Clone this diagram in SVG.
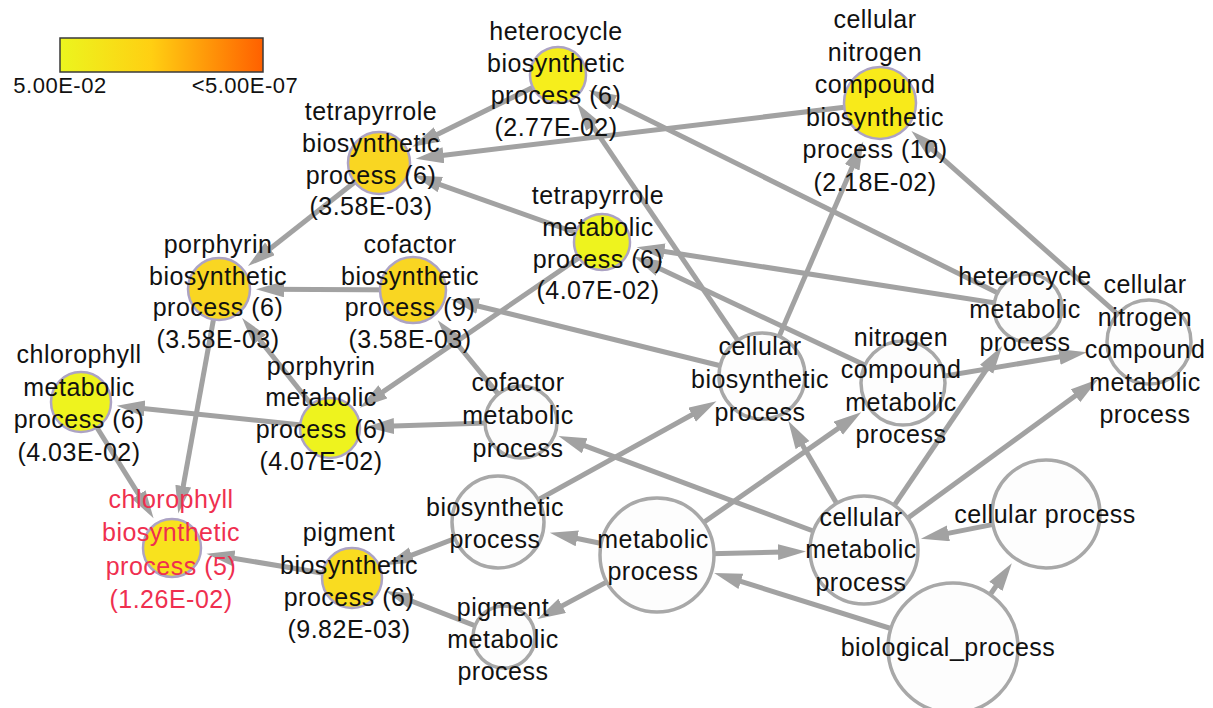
<svg xmlns="http://www.w3.org/2000/svg" width="1213" height="708" viewBox="0 0 1213 708">
  <defs>
    <linearGradient id="scale" x1="0" y1="0" x2="1" y2="0">
      <stop offset="0" stop-color="#ecf51e"/>
      <stop offset="0.45" stop-color="#ffcf12"/>
      <stop offset="1" stop-color="#ff6000"/>
    </linearGradient>
    <marker id="arrow" markerUnits="userSpaceOnUse" markerWidth="30" markerHeight="18" refX="16" refY="8" orient="auto">
      <path d="M0,0 L28,8 L0,16 z" fill="#a2a2a2"/>
    </marker>
    <style>
      .edge { stroke: #a2a2a2; stroke-width: 5; fill: none; marker-end: url(#arrow); }
      .term { fill: #fdfdfd; stroke: #a8a8a8; stroke-width: 3.5; }
      .hit { stroke: #aca3c4; stroke-width: 2.5; }
      .lbl { font-family: "Liberation Sans", Arial, sans-serif; font-size: 25px; letter-spacing: 0.5px; fill: #111111; text-anchor: middle; }
      .red { fill: #ef2f4f; }
      .leg { font-family: "Liberation Sans", Arial, sans-serif; font-size: 22px; letter-spacing: 0.5px; fill: #111111; text-anchor: middle; }
    </style>
  </defs>
  <rect width="1213" height="708" fill="#ffffff"/>

  <!-- colour scale -->
  <g id="legend">
    <rect x="60" y="38" width="203" height="34" fill="url(#scale)" stroke="#3a3a3a" stroke-width="1.5"/>
    <text class="leg" x="60" y="93">5.00E-02</text>
    <text class="leg" x="245" y="93">&lt;5.00E-07</text>
  </g>

  <!-- is-a edges, parent to child -->
  <g id="edges">
    <line class="edge" x1="558" y1="75" x2="423.0" y2="141.4"/>
    <line class="edge" x1="880" y1="103" x2="427.6" y2="157.2"/>
    <line class="edge" x1="602" y1="242" x2="425.2" y2="179.3"/>
    <line class="edge" x1="1028" y1="308" x2="599.3" y2="95.4"/>
    <line class="edge" x1="762" y1="376" x2="583.8" y2="113.1"/>
    <line class="edge" x1="762" y1="376" x2="858.5" y2="152.6"/>
    <line class="edge" x1="1149" y1="342" x2="920.4" y2="138.9"/>
    <line class="edge" x1="1028" y1="308" x2="648.5" y2="249.0"/>
    <line class="edge" x1="903" y1="383" x2="644.7" y2="261.6"/>
    <line class="edge" x1="379" y1="163" x2="257.4" y2="258.7"/>
    <line class="edge" x1="413" y1="290" x2="268" y2="289.2"/>
    <line class="edge" x1="330" y1="428" x2="249.6" y2="327.3"/>
    <line class="edge" x1="762" y1="376" x2="462.6" y2="302.2"/>
    <line class="edge" x1="521" y1="422" x2="445.3" y2="329.5"/>
    <line class="edge" x1="602" y1="242" x2="369.7" y2="400.9"/>
    <line class="edge" x1="521" y1="422" x2="378" y2="426.5"/>
    <line class="edge" x1="330" y1="428" x2="128.7" y2="406.9"/>
    <line class="edge" x1="219" y1="289" x2="180.4" y2="501.8"/>
    <line class="edge" x1="81" y1="402" x2="147.2" y2="508.1"/>
    <line class="edge" x1="352" y1="578" x2="218.3" y2="555.7"/>
    <line class="edge" x1="498" y1="522" x2="396.8" y2="560.8"/>
    <line class="edge" x1="504" y1="637" x2="396.8" y2="595.3"/>
    <line class="edge" x1="657" y1="555" x2="561.6" y2="535.2"/>
    <line class="edge" x1="657" y1="555" x2="548.1" y2="613.4"/>
    <line class="edge" x1="657" y1="555" x2="794" y2="551.7"/>
    <line class="edge" x1="953" y1="648" x2="725.6" y2="576.6"/>
    <line class="edge" x1="953" y1="648" x2="1005" y2="573.2"/>
    <line class="edge" x1="1046" y1="514" x2="932.7" y2="536.4"/>
    <line class="edge" x1="498" y1="522" x2="706" y2="407"/>
    <line class="edge" x1="657" y1="555" x2="851.4" y2="419.1"/>
    <line class="edge" x1="864" y1="550" x2="794.4" y2="431.3"/>
    <line class="edge" x1="864" y1="550" x2="995.5" y2="356.0"/>
    <line class="edge" x1="864" y1="550" x2="1088.4" y2="386.3"/>
    <line class="edge" x1="903" y1="383" x2="1075.1" y2="354.3"/>
    <line class="edge" x1="864" y1="550" x2="569.7" y2="440.2"/>
  </g>

  <!-- terms: circles -->
  <g id="n-heterocycle-biosynthetic"><circle class="hit" cx="558" cy="75" r="28" fill="#f6ee1c"/></g>
  <g id="n-cellular-nitrogen-compound-biosynthetic"><circle class="hit" cx="880" cy="103" r="36" fill="#f8ea1a"/></g>
  <g id="n-tetrapyrrole-biosynthetic"><circle class="hit" cx="379" cy="163" r="31" fill="#f9d622"/></g>
  <g id="n-tetrapyrrole-metabolic"><circle class="hit" cx="602" cy="242" r="28" fill="#eef31e"/></g>
  <g id="n-porphyrin-biosynthetic"><circle class="hit" cx="219" cy="289" r="31" fill="#f9d622"/></g>
  <g id="n-cofactor-biosynthetic"><circle class="hit" cx="413" cy="290" r="33" fill="#f9d622"/></g>
  <g id="n-chlorophyll-metabolic"><circle class="hit" cx="81" cy="402" r="30" fill="#eef31e"/></g>
  <g id="n-chlorophyll-biosynthetic"><circle class="hit" cx="172" cy="548" r="29" fill="#f8e21e"/></g>
  <g id="n-porphyrin-metabolic"><circle class="hit" cx="330" cy="428" r="30" fill="#eef31e"/></g>
  <g id="n-pigment-biosynthetic"><circle class="hit" cx="352" cy="578" r="30" fill="#f9dc20"/></g>
  <g id="n-cofactor-metabolic"><circle class="term" cx="521" cy="422" r="36"/></g>
  <g id="n-cellular-biosynthetic"><circle class="term" cx="762" cy="376" r="43"/></g>
  <g id="n-nitrogen-compound-metabolic"><circle class="term" cx="903" cy="383" r="42"/></g>
  <g id="n-heterocycle-metabolic"><circle class="term" cx="1028" cy="308" r="34"/></g>
  <g id="n-cellular-nitrogen-compound-metabolic"><circle class="term" cx="1149" cy="342" r="42"/></g>
  <g id="n-biosynthetic"><circle class="term" cx="498" cy="522" r="46"/></g>
  <g id="n-metabolic"><circle class="term" cx="657" cy="555" r="57"/></g>
  <g id="n-pigment-metabolic"><circle class="term" cx="504" cy="637" r="31"/></g>
  <g id="n-cellular-metabolic"><circle class="term" cx="864" cy="550" r="54"/></g>
  <g id="n-cellular"><circle class="term" cx="1046" cy="514" r="54"/></g>
  <g id="n-biological"><circle class="term" cx="953" cy="648" r="65"/></g>

  <!-- term labels -->
  <g id="labels">
    <text class="lbl" x="556" y="40">heterocycle</text>
    <text class="lbl" x="556" y="72">biosynthetic</text>
    <text class="lbl" x="556" y="104">process (6)</text>
    <text class="lbl" x="556" y="136">(2.77E-02)</text>

    <text class="lbl" x="875" y="28">cellular</text>
    <text class="lbl" x="875" y="60.5">nitrogen</text>
    <text class="lbl" x="875" y="93">compound</text>
    <text class="lbl" x="875" y="125.5">biosynthetic</text>
    <text class="lbl" x="875" y="158">process (10)</text>
    <text class="lbl" x="875" y="190.5">(2.18E-02)</text>

    <text class="lbl" x="371" y="120">tetrapyrrole</text>
    <text class="lbl" x="371" y="152">biosynthetic</text>
    <text class="lbl" x="371" y="184">process (6)</text>
    <text class="lbl" x="371" y="215">(3.58E-03)</text>

    <text class="lbl" x="598" y="204">tetrapyrrole</text>
    <text class="lbl" x="598" y="236">metabolic</text>
    <text class="lbl" x="598" y="268">process (6)</text>
    <text class="lbl" x="598" y="299">(4.07E-02)</text>

    <text class="lbl" x="218" y="253">porphyrin</text>
    <text class="lbl" x="218" y="285">biosynthetic</text>
    <text class="lbl" x="218" y="316">process (6)</text>
    <text class="lbl" x="218" y="348">(3.58E-03)</text>

    <text class="lbl" x="410" y="253">cofactor</text>
    <text class="lbl" x="410" y="285">biosynthetic</text>
    <text class="lbl" x="410" y="316">process (9)</text>
    <text class="lbl" x="410" y="348">(3.58E-03)</text>

    <text class="lbl" x="79" y="363">chlorophyll</text>
    <text class="lbl" x="79" y="396">metabolic</text>
    <text class="lbl" x="79" y="428">process (6)</text>
    <text class="lbl" x="79" y="461">(4.03E-02)</text>

    <text class="lbl red" x="171" y="508">chlorophyll</text>
    <text class="lbl red" x="171" y="541">biosynthetic</text>
    <text class="lbl red" x="171" y="575">process (5)</text>
    <text class="lbl red" x="171" y="608">(1.26E-02)</text>

    <text class="lbl" x="321" y="375">porphyrin</text>
    <text class="lbl" x="321" y="406">metabolic</text>
    <text class="lbl" x="321" y="438">process (6)</text>
    <text class="lbl" x="321" y="470">(4.07E-02)</text>

    <text class="lbl" x="349" y="541">pigment</text>
    <text class="lbl" x="349" y="574">biosynthetic</text>
    <text class="lbl" x="349" y="606">process (6)</text>
    <text class="lbl" x="349" y="638">(9.82E-03)</text>

    <text class="lbl" x="518" y="391">cofactor</text>
    <text class="lbl" x="518" y="424">metabolic</text>
    <text class="lbl" x="518" y="457">process</text>

    <text class="lbl" x="760" y="355">cellular</text>
    <text class="lbl" x="760" y="388">biosynthetic</text>
    <text class="lbl" x="760" y="421">process</text>

    <text class="lbl" x="901" y="346">nitrogen</text>
    <text class="lbl" x="901" y="378">compound</text>
    <text class="lbl" x="901" y="411">metabolic</text>
    <text class="lbl" x="901" y="443">process</text>

    <text class="lbl" x="1025" y="285">heterocycle</text>
    <text class="lbl" x="1025" y="318">metabolic</text>
    <text class="lbl" x="1025" y="351">process</text>

    <text class="lbl" x="1145" y="293">cellular</text>
    <text class="lbl" x="1145" y="325.5">nitrogen</text>
    <text class="lbl" x="1145" y="358">compound</text>
    <text class="lbl" x="1145" y="390.5">metabolic</text>
    <text class="lbl" x="1145" y="423">process</text>

    <text class="lbl" x="495" y="516">biosynthetic</text>
    <text class="lbl" x="495" y="548">process</text>

    <text class="lbl" x="653" y="548">metabolic</text>
    <text class="lbl" x="653" y="580">process</text>

    <text class="lbl" x="503" y="616">pigment</text>
    <text class="lbl" x="503" y="648">metabolic</text>
    <text class="lbl" x="503" y="680">process</text>

    <text class="lbl" x="861" y="526">cellular</text>
    <text class="lbl" x="861" y="558">metabolic</text>
    <text class="lbl" x="861" y="591">process</text>

    <text class="lbl" x="1045" y="523">cellular process</text>

    <text class="lbl" x="948" y="656">biological_process</text>
  </g>
</svg>
